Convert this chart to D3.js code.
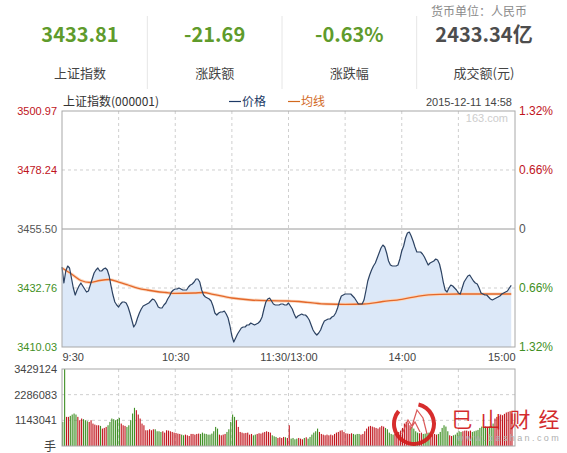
<!DOCTYPE html>
<html>
<head>
<meta charset="utf-8">
<script src="https://cdn.jsdelivr.net/npm/d3@7"></script>
<style>
  body { margin: 0; background: #fff; }
  svg text { font-family: Arial, "Liberation Sans", "Noto Sans CJK SC", sans-serif; }
  .cjk { font-family: "Noto Sans CJK SC", "Noto Sans", sans-serif !important; }
</style>
</head>
<body>
<div id="chart"></div>
<script>
// summary strip
const summaryValues = ["3433.81", "-21.69", "-0.63%", "2433.34亿"];
const summaryLabels = ["上证指数", "涨跌额", "涨跌幅", "成交额(元)"];

// axis ticks
const priceTicks = [3500.97, 3478.24, 3455.50, 3432.76, 3410.03];
const pctLabels  = ["1.32%", "0.66%", "0", "0.66%", "1.32%"];
const timeTicks  = [0, 30, 60, 90, 120, 150, 180, 210, 240];
const timeLabels = ["9:30", "", "10:30", "", "11:30/13:00", "", "14:00", "", "15:00"];
const volTicks   = [3429124, 2286083, 1143041];
const prevClose  = 3455.50;

// minute prices 9:30 .. 14:58
const price = [
3440.85,3434.69,3439.31,3441.24,3440.47,3436.62,3432.76,3430.06,3431.99,3433.53,
3434.69,3433.53,3432.38,3431.22,3431.61,3433.92,3436.23,3438.54,3439.70,3440.47,
3439.31,3439.31,3440.08,3440.47,3439.70,3437.39,3433.53,3430.06,3427.37,3426.21,
3425.44,3426.60,3427.37,3427.37,3426.98,3425.44,3423.13,3420.43,3417.73,3418.89,
3421.20,3423.13,3424.67,3425.83,3426.21,3426.60,3426.98,3427.75,3428.52,3428.14,
3426.98,3425.44,3425.05,3425.05,3426.21,3426.98,3428.52,3429.68,3431.22,3431.99,
3432.38,3432.38,3432.76,3432.38,3431.99,3431.99,3431.99,3433.15,3433.92,3434.30,
3435.07,3436.23,3436.23,3435.07,3431.99,3430.06,3429.29,3428.91,3428.52,3427.75,
3425.83,3423.13,3422.36,3423.13,3423.51,3423.51,3423.90,3422.74,3421.20,3418.12,
3414.26,3411.95,3413.49,3415.04,3416.19,3417.35,3417.73,3417.73,3418.50,3418.50,
3419.27,3418.89,3418.50,3418.89,3419.27,3420.04,3421.59,3424.67,3427.37,3428.52,
3428.91,3427.75,3426.60,3426.21,3426.21,3426.21,3426.60,3426.60,3426.21,3426.21,
3426.98,3425.83,3424.67,3422.74,3421.20,3421.97,3422.36,3422.74,3422.36,3422.36,
3421.59,3420.43,3418.50,3416.58,3415.42,3414.65,3415.42,3416.58,3418.50,3420.04,
3420.43,3420.82,3420.82,3421.59,3421.97,3423.13,3425.05,3427.75,3429.68,3430.06,
3430.45,3430.45,3430.45,3430.45,3429.68,3428.91,3427.75,3426.60,3426.60,3426.60,
3428.14,3431.61,3435.46,3437.77,3439.70,3441.24,3442.40,3444.32,3446.25,3448.18,
3449.33,3448.56,3446.25,3443.17,3441.62,3441.24,3441.24,3441.24,3441.62,3443.94,
3447.02,3448.95,3452.03,3453.96,3454.34,3452.80,3450.87,3448.56,3446.63,3446.63,
3446.63,3445.86,3444.71,3443.17,3441.62,3442.40,3442.78,3443.17,3443.94,3443.55,
3442.01,3438.93,3435.07,3431.99,3431.22,3432.76,3433.92,3433.53,3432.76,3431.99,
3430.83,3430.45,3432.76,3435.07,3436.23,3437.39,3437.77,3436.62,3435.46,3434.69,
3434.30,3432.76,3430.83,3430.45,3430.06,3430.06,3429.29,3428.52,3428.14,3428.52,
3428.91,3429.29,3429.68,3430.45,3430.83,3431.22,3431.61,3432.76,3433.81
];

// average price line
const avgMinutes = [0, 5, 10, 15, 20, 25, 30, 35, 40, 45, 50, 55, 60, 70, 75, 80, 90, 100, 110, 120,
                    130, 140, 150, 160, 170, 180, 190, 200, 210, 220, 230, 238];
const avgValues  = [3440.47, 3438.16, 3435.65, 3434.88, 3435.65, 3436.04, 3435.07, 3433.92, 3432.76, 3431.99,
                    3431.41, 3431.03, 3430.72, 3430.83, 3431.03, 3430.34, 3428.91, 3428.14, 3427.87, 3427.75,
                    3427.25, 3426.60, 3426.48, 3426.60, 3427.56, 3428.41, 3429.76, 3430.29, 3430.45, 3430.45,
                    3430.45, 3430.45];

// minute volume (手)
const volume = [
1073000,3429124,1297000,1297000,1342000,1401000,1446000,1401000,1297000,1148000,
1223000,1193000,1148000,1103000,1073000,1148000,999000,954000,924000,924000,
895000,775000,805000,850000,924000,1073000,1223000,1193000,1148000,1193000,
1252000,999000,924000,895000,850000,924000,1148000,1446000,1700000,1595000,
1401000,1223000,999000,924000,701000,701000,745000,701000,745000,745000,
656000,656000,626000,656000,596000,701000,686000,656000,626000,596000,
581000,552000,537000,507000,477000,507000,477000,447000,537000,537000,
507000,537000,552000,537000,596000,552000,537000,507000,507000,552000,
656000,850000,775000,507000,477000,507000,537000,626000,745000,1073000,
1401000,1297000,1148000,850000,626000,596000,567000,581000,596000,507000,
537000,477000,507000,537000,567000,552000,596000,626000,656000,626000,
596000,477000,432000,403000,358000,388000,358000,403000,388000,358000,
924000,328000,358000,298000,328000,358000,328000,298000,358000,388000,
328000,403000,507000,596000,656000,775000,626000,537000,507000,477000,
507000,477000,507000,477000,537000,596000,626000,686000,701000,626000,
567000,552000,537000,567000,537000,507000,537000,537000,507000,537000,
656000,775000,865000,895000,865000,835000,805000,775000,835000,895000,
865000,805000,745000,596000,537000,507000,537000,596000,626000,686000,
805000,999000,1073000,1044000,924000,850000,775000,656000,596000,567000,
596000,537000,552000,567000,596000,537000,507000,537000,507000,537000,
626000,805000,924000,865000,656000,477000,447000,477000,507000,596000,
656000,626000,656000,686000,686000,656000,686000,626000,656000,686000,
716000,805000,865000,835000,865000,850000,865000,895000,999000,1223000,
1297000,1342000,1401000,1372000,1431000,1491000,1521000,1551000,1446000
];

// watermark
const logoChars = ["巳", "山", "财", "经"];

const W = 567, H = 453;
const RED = "#c0141c", GREEN = "#3f8f24", GRID = "#cfcfcf", BORDER = "#a8a8a8";

const svg = d3.select("#chart").append("svg")
  .attr("width", W).attr("height", H);

// ---------- summary strip ----------
const colX = d3.scalePoint().domain(d3.range(4)).range([80, 484]);

svg.append("text").attr("class", "cjk")
  .attr("x", 527).attr("y", 16).attr("text-anchor", "end")
  .attr("font-size", 12).attr("fill", "#8a8a8a")
  .text("货币单位：人民币");

svg.selectAll(".sval").data(summaryValues).enter().append("text")
  .attr("class", "sval cjk")
  .attr("x", (d, i) => colX(i)).attr("y", 42)
  .attr("text-anchor", "middle").attr("font-size", 20).attr("font-weight", "bold")
  .attr("fill", (d, i) => i === 3 ? "#4d4d4d" : "#5f9b2c")
  .text(d => d);

svg.selectAll(".slab").data(summaryLabels).enter().append("text")
  .attr("class", "slab cjk")
  .attr("x", (d, i) => colX(i)).attr("y", 78)
  .attr("text-anchor", "middle").attr("font-size", 13).attr("fill", "#444")
  .text(d => d);

svg.selectAll(".sep").data(d3.range(1, 4)).enter().append("line")
  .attr("x1", i => (colX(i - 1) + colX(i)) / 2).attr("x2", i => (colX(i - 1) + colX(i)) / 2)
  .attr("y1", 16).attr("y2", 89)
  .attr("stroke", "#e6e6e6");

// ---------- price chart ----------
const x  = d3.scaleLinear().domain([0, 240]).range([62, 515]);
const yP = d3.scaleLinear().domain([3410.03, 3500.97]).range([347, 111]);
const yV = d3.scaleLinear().domain([0, 3429124]).range([446, 369]);

// title row
svg.append("text").attr("class", "cjk").attr("x", 63).attr("y", 106)
  .attr("font-size", 12).attr("fill", "#333").text("上证指数(000001)");
svg.append("line").attr("x1", 229).attr("x2", 241).attr("y1", 101.5).attr("y2", 101.5)
  .attr("stroke", "#1d3a66").attr("stroke-width", 1.2);
svg.append("text").attr("class", "cjk").attr("x", 242).attr("y", 106)
  .attr("font-size", 12).attr("fill", "#1d3a66").text("价格");
svg.append("line").attr("x1", 288).attr("x2", 300).attr("y1", 101.5).attr("y2", 101.5)
  .attr("stroke", "#d2691e").attr("stroke-width", 1.2);
svg.append("text").attr("class", "cjk").attr("x", 301).attr("y", 106)
  .attr("font-size", 12).attr("fill", "#d2691e").text("均线");
svg.append("text").attr("x", 512).attr("y", 106).attr("text-anchor", "end")
  .attr("font-size", 11).attr("fill", "#444").text("2015-12-11 14:58");

// grid
const priceGrid = svg.append("g");
priceGrid.selectAll("line.h").data(priceTicks.slice(1, 4)).enter().append("line")
  .attr("x1", 62).attr("x2", 515)
  .attr("y1", d => yP(d)).attr("y2", d => yP(d))
  .attr("stroke", d => d === prevClose ? "#9a9a9a" : GRID)
  .attr("stroke-dasharray", d => d === prevClose ? null : "3,3");
priceGrid.selectAll("line.v").data(timeTicks.slice(1, 8)).enter().append("line")
  .attr("x1", d => x(d)).attr("x2", d => x(d))
  .attr("y1", 111).attr("y2", 347)
  .attr("stroke", GRID).attr("stroke-dasharray", "3,3");

svg.append("text").attr("x", 508).attr("y", 122).attr("text-anchor", "end")
  .attr("font-size", 11).attr("fill", "#cdcdcd").text("163.com");

// area + price line
const mins = d3.range(price.length);
svg.append("path").datum(mins)
  .attr("fill", "#dce8f8")
  .attr("d", d3.area().x(i => x(i)).y0(yP.range()[0]).y1(i => yP(price[i])));

const avgPts = avgMinutes.map((m, i) => [m, avgValues[i]]);
const avgLine = d3.line().x(d => x(d[0])).y(d => yP(d[1])).curve(d3.curveMonotoneX);
svg.append("path").datum(avgPts).attr("fill", "none")
  .attr("stroke", "#fad8c0").attr("stroke-width", 3.2).attr("d", avgLine);
svg.append("path").datum(avgPts).attr("fill", "none")
  .attr("stroke", "#e4682a").attr("stroke-width", 1.3).attr("d", avgLine);

svg.append("path").datum(mins).attr("fill", "none")
  .attr("stroke", "#2c4262").attr("stroke-width", 1.2)
  .attr("stroke-linejoin", "round")
  .attr("d", d3.line().x(i => x(i)).y(i => yP(price[i])));

svg.append("rect").attr("x", 62).attr("y", 111).attr("width", 453).attr("height", 236)
  .attr("fill", "none").attr("stroke", BORDER);

// axes
const tickColor = i => i < 2 ? RED : (i === 2 ? "#555" : GREEN);
const leftAxis = svg.append("g").attr("transform", "translate(62,0)")
  .call(d3.axisLeft(yP).tickValues(priceTicks).tickFormat(d3.format(".2f")).tickSize(0).tickPadding(5));
leftAxis.select(".domain").remove();
leftAxis.selectAll("text").attr("font-size", 11).attr("font-family", "Arial")
  .attr("fill", (d, i) => tickColor(i));

const rightAxis = svg.append("g").attr("transform", "translate(515,0)")
  .call(d3.axisRight(yP).tickValues(priceTicks).tickFormat((d, i) => pctLabels[i]).tickSize(0).tickPadding(4));
rightAxis.select(".domain").remove();
rightAxis.selectAll("text").attr("font-size", 12).attr("font-family", "Arial")
  .attr("fill", (d, i) => tickColor(i));

const timeAxis = svg.append("g").attr("transform", "translate(0,347)")
  .call(d3.axisBottom(x).tickValues(timeTicks).tickFormat((d, i) => timeLabels[i]).tickSize(0).tickPadding(6));
timeAxis.select(".domain").remove();
timeAxis.selectAll("text").attr("font-size", 11).attr("font-family", "Arial").attr("fill", "#444")
  .attr("text-anchor", (d, i) => i === 0 ? "start" : (i === 8 ? "end" : "middle"));

// ---------- volume chart ----------
const volGrid = svg.append("g");
volGrid.selectAll("line.h").data(volTicks.slice(1)).enter().append("line")
  .attr("x1", 62).attr("x2", 515)
  .attr("y1", d => yV(d)).attr("y2", d => yV(d))
  .attr("stroke", GRID).attr("stroke-dasharray", "3,3");
volGrid.selectAll("line.v").data(timeTicks.slice(1, 8)).enter().append("line")
  .attr("x1", d => x(d)).attr("x2", d => x(d))
  .attr("y1", 369).attr("y2", 446)
  .attr("stroke", GRID).attr("stroke-dasharray", "3,3");

svg.append("g").selectAll("rect").data(volume).enter().append("rect")
  .attr("x", (d, i) => x(i) + 0.2)
  .attr("width", 1.1)
  .attr("y", d => yV(d))
  .attr("height", d => yV(0) - yV(d))
  .attr("fill", (d, i) => price[i] >= (i === 0 ? prevClose : price[i - 1]) ? RED : GREEN);

svg.append("rect").attr("x", 62).attr("y", 369).attr("width", 453).attr("height", 77)
  .attr("fill", "none").attr("stroke", BORDER);

const volAxis = svg.append("g").attr("transform", "translate(62,0)")
  .call(d3.axisLeft(yV).tickValues(volTicks).tickFormat(d3.format("d")).tickSize(0).tickPadding(5));
volAxis.select(".domain").remove();
volAxis.selectAll("text").attr("font-size", 11).attr("font-family", "Arial").attr("fill", "#444");
svg.append("text").attr("class", "cjk").attr("x", 56).attr("y", 451).attr("text-anchor", "end")
  .attr("font-size", 12).attr("fill", "#444").text("手");

// ---------- watermark logo ----------
const logo = svg.append("g").attr("transform", "translate(414,424)").attr("opacity", 0.92);
logo.append("path")
  .attr("d", d3.arc().innerRadius(18).outerRadius(22).startAngle(0.75).endAngle(2 * Math.PI - 0.35)())
  .attr("fill", "#d41c1c").attr("transform", "rotate(-30)");
logo.append("path")
  .attr("d", "M-12,10 L-6,-4 L-2,2 L3,-14 L9,-6 L13,10 M-4,6 L1,-2 L6,8")
  .attr("fill", "none").attr("stroke", "#d84c4c").attr("stroke-width", 1.2);
svg.append("g").attr("opacity", 0.92).selectAll("text").data(logoChars).enter().append("text")
  .attr("class", "cjk")
  .attr("x", (d, i) => 462 + i * 29).attr("y", 427)
  .attr("text-anchor", "middle")
  .attr("font-size", 21).attr("fill", "#d0191b")
  .text(d => d);
svg.append("text")
  .attr("x", 457).attr("y", 441)
  .attr("font-size", 9).attr("letter-spacing", 2.4).attr("fill", "#b0b0b0")
  .text("www.bashan.com");
</script>
</body>
</html>
